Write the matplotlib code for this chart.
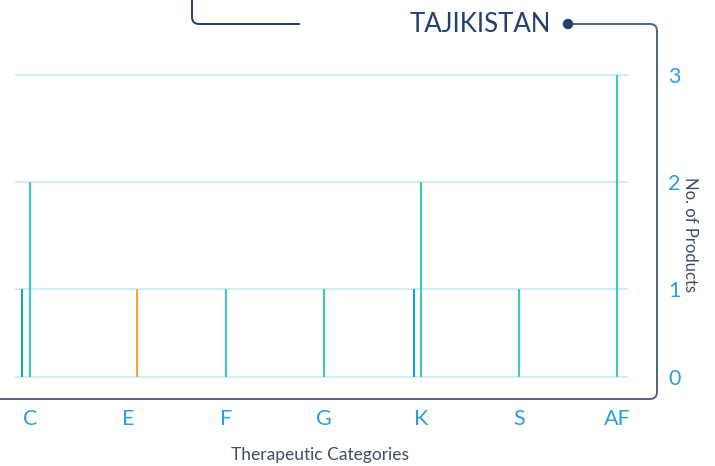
import numpy as np
import matplotlib
matplotlib.use('Agg')
import matplotlib.pyplot as plt
from matplotlib.path import Path
import matplotlib.patches as mpatches

plt.rcParams['font.family'] = ['Lato', 'DejaVu Sans']

categories = ["C", "E", "F", "G", "K", "S", "AF"]
series_blue = [1, 0, 0, 0, 1, 0, 0]
series_teal = [2, 0, 1, 1, 2, 1, 3]
series_orange = [0, 1, 0, 0, 0, 0, 0]
yticks = [0, 1, 2, 3]

c_blue = "#1a9ae0"
c_teal = "#3fc6c9"
c_orange = "#f7a23c"
c_grid = "#d2ecf6"
c_tick = "#2a9fdc"
c_text = "#3d4c6b"
c_frame = "#4f6388"
c_navy = "#22406f"

W, H = 715, 466
fig = plt.figure(figsize=(W / 100, H / 100), dpi=100)
ax = fig.add_axes([15 / W, 0.1854, 613 / W, 0.6605])

# y scale: first unit is a bit shorter than the others
def fwd(y):
    y = np.asarray(y, dtype=float)
    return np.where(y < 1, y * 0.822, y - 0.178)

def inv(t):
    t = np.asarray(t, dtype=float)
    return np.where(t < 0.822, t / 0.822, t + 0.178)

ax.set_yscale('function', functions=(fwd, inv))

x = np.arange(len(categories))
offsets = {"blue": -0.077, "teal": 0.0, "orange": 0.092}
for vals, col, off in [(series_blue, c_blue, offsets["blue"]),
                       (series_teal, c_teal, offsets["teal"]),
                       (series_orange, c_orange, offsets["orange"])]:
    xs = [xi + off for xi, v in zip(x, vals) if v > 0]
    vs = [v for v in vals if v > 0]
    ax.vlines(xs, 0, vs, colors=col, linewidth=1.5, zorder=3)

ax.set_xlim(-0.153, 6.11)
ax.set_ylim(-0.03, 3.03)
ax.set_yticks(yticks)
ax.set_xticks(x)
ax.set_xticklabels(categories)
ax.yaxis.tick_right()
ax.yaxis.set_label_position('right')
ax.grid(axis='y', color=c_grid, linewidth=1.5, zorder=1)
ax.grid(axis='x', visible=False)
ax.tick_params(axis='both', length=0, labelcolor=c_tick, labelsize=15.5)
ax.tick_params(axis='x', pad=21)
ax.tick_params(axis='y', pad=29)
for s in ax.spines.values():
    s.set_visible(False)

ax.set_xlabel("Therapeutic Categories", color=c_text, fontsize=12.5)
ax.xaxis.set_label_coords(0.4976, -0.219)
ax.set_ylabel("No. of Products", color=c_text, fontsize=12, rotation=-90,
              va='center', ha='center')
ax.yaxis.set_label_coords(1.101, 0.47)

# decorative connector lines (pixel coords, origin top-left)
def rounded(points, r):
    verts = [points[0]]
    codes = [Path.MOVETO]
    for i in range(1, len(points) - 1):
        p0, p1, p2 = np.array(points[i - 1]), np.array(points[i]), np.array(points[i + 1])
        d1 = (p1 - p0) / np.linalg.norm(p1 - p0)
        d2 = (p2 - p1) / np.linalg.norm(p2 - p1)
        verts += [tuple(p1 - d1 * r), tuple(p1), tuple(p1 + d2 * r)]
        codes += [Path.LINETO, Path.CURVE3, Path.CURVE3]
    verts.append(points[-1])
    codes.append(Path.LINETO)
    verts = [(vx / 100, (H - vy) / 100) for vx, vy in verts]
    return Path(verts, codes)

fig.patches.append(mpatches.PathPatch(
    rounded([(192, -2), (192, 24), (300, 24)], 7),
    transform=fig.dpi_scale_trans, fill=False, edgecolor=c_navy, linewidth=1.4))
fig.patches.append(mpatches.PathPatch(
    rounded([(568, 24), (657, 24), (657, 399), (-2, 399)], 7),
    transform=fig.dpi_scale_trans, fill=False, edgecolor=c_frame, linewidth=1.4))
fig.patches.append(mpatches.Circle((568 / 100, (H - 24) / 100), 0.045,
                                   transform=fig.dpi_scale_trans, color=c_navy))

fig.text(480 / W, 1 - 24 / H, "TAJIKISTAN", color=c_navy, fontsize=18.5,
         ha='center', va='center')

fig.savefig("out.png", dpi=100)
